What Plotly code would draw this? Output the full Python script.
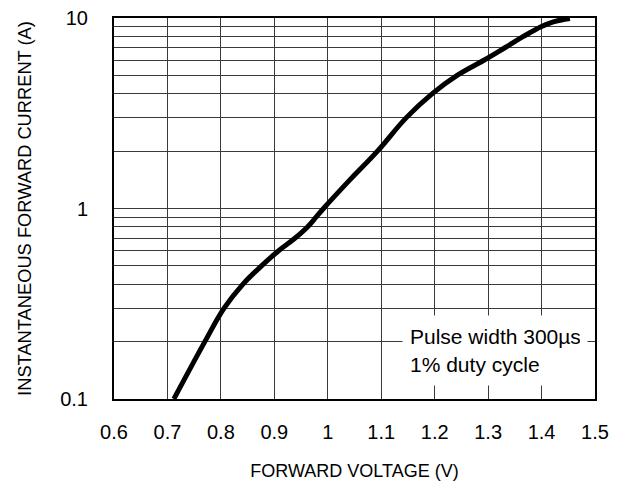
import math
import plotly.graph_objects as go

# Forward voltage (V) and instantaneous forward current (A)
voltage = [0.712, 0.770, 0.806, 0.841, 0.876, 0.908, 0.939, 0.962, 0.978, 0.992, 1.04,
           1.093, 1.147, 1.195, 1.242, 1.292, 1.332, 1.366, 1.399, 1.422, 1.453]
current = [0.1, 0.2, 0.3, 0.4, 0.5, 0.6, 0.7, 0.8, 0.9, 1.0, 1.4,
           2.0, 3.0, 4.0, 5.0, 6.0, 7.0, 8.0, 9.0, 9.55, 9.95]

x_ticks = [0.6, 0.7, 0.8, 0.9, 1.0, 1.1, 1.2, 1.3, 1.4, 1.5]
x_tick_labels = ["0.6", "0.7", "0.8", "0.9", "1", "1.1", "1.2", "1.3", "1.4", "1.5"]
y_ticks = [0.1, 1, 10]
y_tick_labels = ["0.1", "1", "10"]
y_minor = [0.2, 0.3, 0.4, 0.5, 0.6, 0.7, 0.8, 0.9, 2, 3, 4, 5, 6, 7, 8, 9]

note_text = "Pulse width 300µs<br>1% duty cycle"
note_x = 1.313      # volts
note_y = 0.179      # amps

FONT = "Liberation Sans, Arial, sans-serif"
GRID = "#3a3a3a"

fig = go.Figure()
fig.add_trace(go.Scatter(
    x=voltage, y=current, mode="lines",
    line=dict(color="black", width=5, shape="spline", smoothing=1.1),
    hoverinfo="skip", showlegend=False,
))

fig.update_layout(
    width=622, height=483,
    margin=dict(l=105.5, r=35, t=10, b=92, autoexpand=False),
    paper_bgcolor="white", plot_bgcolor="white",
    font=dict(family=FONT, color="black", size=20),
    xaxis=dict(
        range=[0.6, 1.5], tickvals=x_ticks, ticktext=x_tick_labels,
        showgrid=True, gridcolor=GRID, gridwidth=1,
        showline=True, linecolor="black", linewidth=2, mirror=True,
        ticks="", ticklabelstandoff=14, zeroline=False, automargin=False,
        ticklabeloverflow="allow",
        title=dict(text="FORWARD VOLTAGE (V)", font=dict(size=18), standoff=22),
    ),
    yaxis=dict(
        type="log", range=[-1, 1], tickvals=y_ticks, ticktext=y_tick_labels,
        showgrid=True, gridcolor=GRID, gridwidth=1,
        minor=dict(tickvals=y_minor, showgrid=True, gridcolor=GRID, gridwidth=1, ticks=""),
        showline=True, linecolor="black", linewidth=2, mirror=True,
        ticks="", ticklabelstandoff=20, zeroline=False, automargin=False,
        ticklabeloverflow="allow",
        title=dict(text="INSTANTANEOUS FORWARD CURRENT (A)", font=dict(size=18.3), standoff=24),
    ),
    annotations=[dict(
        x=note_x, y=math.log10(note_y), xref="x", yref="y", text=note_text,
        showarrow=False, align="left", bgcolor="white",
        font=dict(size=21, family=FONT),
        width=170, height=55, borderpad=7,
        xanchor="center", yanchor="middle",
    )],
)

fig.write_html("out.html")
